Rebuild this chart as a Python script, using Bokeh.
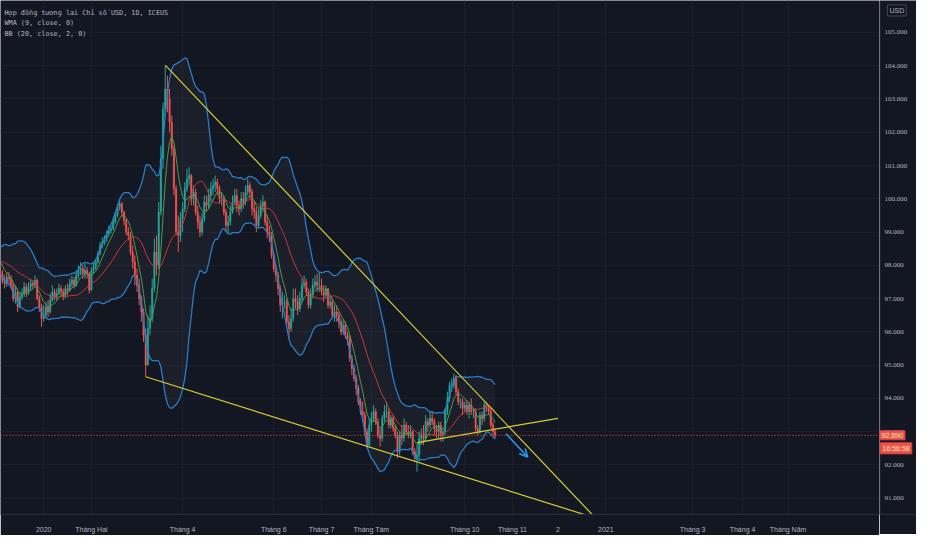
import numpy as np
import pandas as pd
from bokeh.plotting import figure
from bokeh.layouts import row
from bokeh.models import (Range1d, FixedTicker, Span, Label, Grid,
                          Arrow, OpenHead, ColumnDataSource)
from bokeh.embed import file_html
from bokeh.resources import INLINE

# ---------------- data ----------------
title_text = "Hợp đồng tương lai Chỉ số USD, 1D, ICEUS"
wma_text = "WMA (9, close, 0)"
bb_text = "BB (20, close, 2, 0)"
currency = "USD"
last_price = 92.890
countdown = "16:56:58"

holidays = ["2019-12-25", "2020-01-01", "2020-04-10", "2020-12-25", "2021-01-01", "2021-04-02"]
first_visible = "2019-12-03"

# closes before the visible window (only used for indicator warm-up)
warm_closes = [97.95, 98.15, 98.3, 98.35, 98.2, 98.3, 98.15, 97.85, 97.95, 97.8,
               98.0, 98.2, 98.3, 98.25, 98.35, 98.4, 98.3, 98.25, 97.85]

dec19_c = [97.75, 97.55, 97.45, 97.65, 97.6, 97.4, 97.0, 97.2, 96.75, 97.05, 97.15, 97.35, 97.2, 97.35, 97.45, 97.4, 97.55, 97.0, 96.75, 96.4]
dec19_h = [98.0, 97.85, 97.7, 97.8, 97.8, 97.7, 97.5, 97.4, 97.3, 97.2, 97.3, 97.5, 97.45, 97.5, 97.6, 97.55, 97.7, 97.6, 97.1, 96.85]
dec19_l = [97.6, 97.45, 97.3, 97.35, 97.45, 97.3, 96.9, 96.85, 96.6, 96.7, 96.95, 97.05, 97.05, 97.1, 97.25, 97.3, 97.35, 96.95, 96.6, 96.15]

jan_c = [96.5, 96.75, 96.6, 96.95, 97.2, 97.05, 97.15, 97.3, 97.2, 97.05, 97.3, 97.25, 97.45, 97.55, 97.4, 97.7, 97.85, 97.9, 97.75, 97.85, 97.75, 97.25]
jan_h = [96.8, 96.9, 96.95, 97.15, 97.4, 97.3, 97.3, 97.45, 97.4, 97.3, 97.4, 97.45, 97.6, 97.7, 97.65, 97.85, 98.0, 98.1, 98.0, 98.05, 97.95, 97.8]
jan_l = [96.3, 96.4, 96.45, 96.55, 96.9, 96.95, 96.95, 97.1, 97.1, 96.95, 97.0, 97.1, 97.2, 97.35, 97.3, 97.35, 97.6, 97.7, 97.6, 97.6, 97.6, 97.15]

feb_c = [97.85, 97.95, 98.1, 98.35, 98.6, 98.7, 98.8, 98.95, 99.05, 99.1, 99.3, 99.5, 99.75, 99.85, 99.6, 99.35, 99.0, 98.9, 98.4, 98.1]
feb_h = [97.95, 98.1, 98.2, 98.45, 98.7, 98.85, 98.9, 99.05, 99.2, 99.2, 99.4, 99.6, 99.85, 100.0, 99.9, 99.65, 99.4, 99.15, 99.0, 98.6]
feb_l = [97.3, 97.75, 97.85, 98.05, 98.3, 98.5, 98.6, 98.7, 98.85, 98.95, 99.05, 99.25, 99.45, 99.65, 99.45, 99.2, 98.9, 98.75, 98.3, 97.9]

mar_c = [97.7, 97.4, 97.0, 96.6, 95.9, 95.0, 96.1, 96.4, 97.3, 98.4, 98.0, 99.6, 101.2, 102.7, 103.3, 103.0, 102.3, 101.5, 100.3, 99.0, 98.9, 99.4]
mar_h = [98.3, 97.9, 97.6, 97.1, 96.7, 96.1, 96.5, 96.8, 97.6, 98.8, 98.9, 99.9, 101.6, 102.9, 104.0, 103.7, 103.3, 102.5, 101.6, 100.4, 99.5, 99.6]
mar_l = [97.4, 97.2, 96.8, 96.3, 95.7, 94.65, 95.2, 95.9, 96.3, 97.2, 97.7, 97.9, 99.5, 100.9, 102.5, 102.6, 102.0, 101.3, 100.1, 98.9, 98.4, 98.7]

apr_c = [99.7, 100.3, 100.6, 100.7, 100.0, 100.2, 99.6, 99.3, 99.0, 99.4, 99.9, 99.8, 100.1, 100.3, 100.4, 100.5, 100.3, 100.0, 100.0, 99.6, 99.2]
apr_h = [99.9, 100.5, 100.9, 100.95, 100.75, 100.4, 100.3, 99.8, 99.5, 99.6, 100.1, 100.1, 100.3, 100.5, 100.6, 100.7, 100.6, 100.4, 100.2, 100.1, 99.7]
apr_l = [99.0, 99.6, 100.2, 100.4, 99.8, 99.8, 99.5, 99.1, 98.85, 98.9, 99.3, 99.6, 99.7, 99.9, 100.1, 100.2, 100.1, 99.85, 99.8, 99.5, 99.0]

may_c = [99.3, 99.6, 99.9, 100.1, 99.8, 99.7, 100.0, 99.9, 100.2, 100.4, 100.2, 99.7, 99.6, 99.2, 99.5, 99.8, 99.9, 99.3, 99.0, 98.9, 98.3]
may_h = [99.5, 99.8, 100.1, 100.3, 100.3, 99.95, 100.2, 100.2, 100.4, 100.6, 100.5, 100.3, 99.9, 99.75, 99.7, 99.95, 100.1, 99.95, 99.5, 99.2, 99.0]
may_l = [98.95, 99.2, 99.55, 99.8, 99.6, 99.5, 99.6, 99.7, 99.8, 100.1, 100.0, 99.5, 99.4, 99.0, 99.1, 99.4, 99.6, 99.2, 98.8, 98.7, 98.2]

jun_c = [97.9, 97.7, 97.3, 96.8, 96.9, 96.9, 96.3, 96.1, 96.4, 97.0, 96.9, 96.7, 97.0, 97.4, 97.5, 97.2, 96.8, 97.1, 97.4, 97.5, 97.4, 97.4]
jun_h = [98.4, 98.0, 97.8, 97.4, 97.2, 97.1, 97.0, 96.5, 96.7, 97.3, 97.3, 97.1, 97.2, 97.6, 97.7, 97.6, 97.3, 97.3, 97.6, 97.7, 97.75, 97.8]
jun_l = [97.8, 97.5, 97.1, 96.6, 96.4, 96.7, 96.2, 95.8, 96.0, 96.3, 96.7, 96.5, 96.6, 96.9, 97.3, 97.1, 96.7, 96.7, 97.0, 97.3, 97.2, 97.2]

jul_c = [97.2, 97.1, 97.3, 96.8, 96.9, 96.5, 96.6, 96.5, 96.3, 96.0, 96.2, 95.9, 95.8, 95.2, 94.9, 94.6, 94.3, 93.9, 93.6, 93.5, 93.0, 92.6, 93.2]
jul_h = [97.6, 97.4, 97.4, 97.3, 97.1, 97.0, 96.8, 96.8, 96.6, 96.4, 96.35, 96.3, 96.0, 95.9, 95.3, 95.0, 94.7, 94.4, 94.0, 93.9, 93.6, 93.1, 93.4]
jul_l = [97.1, 96.9, 97.0, 96.7, 96.7, 96.4, 96.3, 96.3, 96.1, 95.9, 95.9, 95.8, 95.6, 95.1, 94.7, 94.5, 94.1, 93.8, 93.5, 93.3, 92.9, 92.5, 92.55]

aug_c = [93.4, 93.6, 93.3, 92.9, 92.8, 93.4, 93.6, 93.6, 93.2, 93.4, 93.1, 92.9, 92.4, 92.9, 92.8, 93.2, 93.0, 92.9, 93.0, 92.4, 92.2]
aug_h = [93.6, 93.8, 93.7, 93.4, 93.1, 93.5, 93.8, 93.9, 93.7, 93.5, 93.5, 93.2, 93.0, 93.0, 93.2, 93.4, 93.3, 93.2, 93.2, 93.05, 92.5]
aug_l = [93.0, 93.3, 93.2, 92.8, 92.55, 92.7, 93.3, 93.4, 93.1, 93.1, 93.0, 92.8, 92.2, 92.3, 92.6, 92.7, 92.9, 92.8, 92.8, 92.3, 92.1]

sep_c = [92.3, 92.8, 92.9, 92.8, 93.3, 93.2, 93.4, 93.3, 93.1, 93.0, 93.2, 92.9, 93.0, 93.6, 94.0, 94.4, 94.4, 94.6, 94.2, 93.9, 93.9, 93.7]
sep_h = [92.6, 93.0, 93.1, 93.2, 93.5, 93.4, 93.6, 93.6, 93.4, 93.2, 93.3, 93.3, 93.1, 93.7, 94.2, 94.5, 94.6, 94.75, 94.7, 94.3, 94.0, 94.0]
sep_l = [91.8, 92.1, 92.6, 92.6, 92.7, 93.0, 93.1, 93.2, 92.9, 92.8, 92.8, 92.7, 92.7, 92.9, 93.5, 93.9, 94.2, 94.3, 94.1, 93.8, 93.7, 93.5]

oct_c = [93.8, 93.6, 93.8, 93.6, 93.6, 93.1, 93.0, 93.5, 93.4, 93.8, 93.7, 93.6, 93.2, 93.0, 92.89]
oct_h = [93.9, 93.95, 93.9, 94.0, 93.7, 93.7, 93.2, 93.6, 93.6, 93.9, 93.9, 93.8, 93.7, 93.3, 93.1]
oct_l = [93.6, 93.5, 93.4, 93.5, 93.4, 93.0, 92.9, 92.95, 93.2, 93.3, 93.6, 93.5, 93.1, 92.9, 92.8]

closes = dec19_c + jan_c + feb_c + mar_c + apr_c + may_c + jun_c + jul_c + aug_c + sep_c + oct_c
highs = dec19_h + jan_h + feb_h + mar_h + apr_h + may_h + jun_h + jul_h + aug_h + sep_h + oct_h
lows = dec19_l + jan_l + feb_l + mar_l + apr_l + may_l + jun_l + jul_l + aug_l + sep_l + oct_l

# time-axis labels (month starts)
tick_months = ["2020-01-01", "2020-02-01", "2020-04-01", "2020-06-01", "2020-07-01", "2020-08-01",
               "2020-10-01", "2020-11-01", "2020-12-01", "2021-01-01", "2021-03-01", "2021-04-01", "2021-05-01"]
tick_labels = ["2020", "Tháng Hai", "Tháng 4", "Tháng 6", "Tháng 7", "Tháng Tám",
               "Tháng 10", "Tháng 11", "2", "2021", "Tháng 3", "Tháng 4", "Tháng Năm"]
price_ticks = [91, 92, 93, 94, 95, 96, 97, 98, 99, 100, 101, 102, 103, 104, 105]

# drawings: (dates, prices)
upper_trend = (["2020-03-20", "2020-12-23"], [104.02, 90.49])
lower_trend = (["2020-03-09", "2020-12-21"], [94.65, 90.47])
short_trend = (["2020-09-01", "2020-12-01"], [92.67, 93.40])
arrow_pts = (["2020-10-28", "2020-11-11"], [92.94, 92.24])

# ---------------- calendar / indices ----------------
cal = pd.bdate_range("2019-11-01", "2021-06-30")
cal = cal[~cal.isin(pd.to_datetime(holidays))]

def pos(d):
    return int(np.searchsorted(cal.values, np.datetime64(pd.Timestamp(d))))

n = min(len(closes), len(highs), len(lows))
first = pos(first_visible)
all_close = np.array(warm_closes + closes[:n], dtype=float)
nw = len(warm_closes)
x_all = np.arange(first - nw, first - nw + len(all_close))
opens_all = np.r_[all_close[0], all_close[:-1]]

o = opens_all[nw:]
c = all_close[nw:]
h = np.maximum(np.array(highs[:n]), np.maximum(o, c))
l = np.minimum(np.array(lows[:n]), np.minimum(o, c))
x = x_all[nw:]
UP, DOWN = "#26a69a", "#ef5350"
colors = [UP if cc >= oo else DOWN for oo, cc in zip(o, c)]
candles = ColumnDataSource(dict(x=x, o=o, c=c, h=h, l=l, top=np.maximum(o, c),
                                bot=np.minimum(o, c), color=colors))

# indicators
s = pd.Series(all_close)
basis = s.rolling(20).mean()
sd = s.rolling(20).std(ddof=0)
upper = basis + 2 * sd
lower = basis - 2 * sd
wts = np.arange(1, 10)
wma = s.rolling(9).apply(lambda a: np.dot(a, wts) / wts.sum(), raw=True)
ind = ColumnDataSource(dict(x=x_all, basis=basis, upper=upper, lower=lower, wma=wma))

# ---------------- main chart ----------------
BG = "#131722"
GRID = "#1c202c"
AXLINE = "#2a2e39"
TXT = "#b2b5be"
FW, FH, AW = 879, 514, 37
bars_visible = 405.0
x0 = first + 0.1
yr = Range1d(90.51, 105.96)
p = figure(frame_width=FW, frame_height=FH, output_backend="svg", toolbar_location=None,
           x_range=Range1d(x0, x0 + bars_visible), y_range=yr, y_axis_location=None,
           background_fill_color=BG, border_fill_color=BG,
           min_border_left=0, min_border_top=0, min_border_right=0, min_border_bottom=20,
           outline_line_color=None)

tick_pos = [pos(m) for m in tick_months]
p.xaxis.ticker = FixedTicker(ticks=tick_pos)
p.xaxis.major_label_overrides = {tp: lab for tp, lab in zip(tick_pos, tick_labels)}
p.xaxis.major_label_text_font = "Liberation Sans"
p.xaxis.major_label_text_font_size = "7px"
p.xaxis.major_label_text_color = TXT
p.xaxis.major_tick_line_color = None
p.xaxis.minor_tick_line_color = None
p.xaxis.axis_line_color = AXLINE
p.xaxis.major_label_standoff = 5
p.xgrid.ticker = FixedTicker(ticks=tick_pos)
p.xgrid.grid_line_color = GRID
p.add_layout(Grid(dimension=1, ticker=FixedTicker(ticks=price_ticks), grid_line_color=GRID))

# Bollinger fill
p.varea(x="x", y1="lower", y2="upper", source=ind, fill_color="#787b86", fill_alpha=0.08)

# candles
p.segment(x0="x", y0="h", x1="x", y1="l", color="color", line_width=1, source=candles)
p.vbar(x="x", width=0.62, top="top", bottom="bot", fill_color="color", line_color="color",
       line_width=0.5, source=candles)

# indicator lines
p.line("x", "upper", source=ind, line_color="#2a7cc6", line_width=1.3)
p.line("x", "lower", source=ind, line_color="#2a7cc6", line_width=1.3)
p.line("x", "basis", source=ind, line_color="#c6373a", line_width=1)
p.line("x", "wma", source=ind, line_color="#4b9a4f", line_width=1)

# drawings
YEL = "#d6cd34"
for d, pr in (upper_trend, lower_trend, short_trend):
    p.line([pos(v) for v in d], pr, line_color=YEL, line_width=1.2)
ad, ap = arrow_pts
p.add_layout(Arrow(end=OpenHead(size=8, line_color="#2b9cf0", line_width=1.5),
                   x_start=pos(ad[0]), y_start=ap[0], x_end=pos(ad[1]), y_end=ap[1],
                   line_color="#2b9cf0", line_width=1.5))

# last price line
p.add_layout(Span(location=last_price, dimension="width", line_color="#ef5350",
                  line_dash="1 2", line_width=1))

# legend texts (top-left)
for i, t in enumerate([title_text, wma_text, bb_text]):
    p.add_layout(Label(x=4, y=FH - 12 - 10.6 * i, x_units="screen", y_units="screen", text=t,
                       text_font="DejaVu Sans Mono", text_font_size="6.8px",
                       text_color=TXT, text_baseline="middle"))

# ---------------- price scale (right column) ----------------
pa = figure(frame_width=AW, frame_height=FH, output_backend="svg", toolbar_location=None,
            x_range=Range1d(0, AW), y_range=yr, y_axis_location=None,
            background_fill_color=BG, border_fill_color=BG,
            min_border_left=0, min_border_top=0, min_border_right=0, min_border_bottom=20,
            outline_line_color=None)
pa.xaxis.ticker = FixedTicker(ticks=[])
pa.xaxis.major_label_text_font_size = "0px"
pa.xaxis.major_tick_line_color = None
pa.xaxis.minor_tick_line_color = None
pa.xaxis.axis_line_color = AXLINE
pa.grid.visible = False
pa.add_layout(Span(location=0.5, dimension="height", line_color=AXLINE, line_width=1))
pa.text(x=[5] * len(price_ticks), y=price_ticks, text=[f"{v:.3f}" for v in price_ticks],
        text_font="Liberation Sans", text_font_size="7px", text_color=TXT,
        text_baseline="middle", text_align="left")

pa.add_layout(Label(x=0, y=last_price, x_units="data", y_units="data",
                    text=f"{last_price:.3f}", text_font="Liberation Sans", text_font_size="7px",
                    text_color="#f6e7a1", text_baseline="middle", background_fill_color="#ef5350",
                    border_line_color="#d9434a", padding=2))
pa.add_layout(Label(x=1, y=last_price, y_offset=-13, x_units="data", y_units="data",
                    text=countdown, text_font="Liberation Sans", text_font_size="7px",
                    text_color="#f6e7a1", text_baseline="middle", background_fill_color="#ef5350",
                    border_line_color="#d9434a", padding=2))
pa.add_layout(Label(x=8, y=FH - 10, x_units="screen", y_units="screen", text=currency,
                    text_font="Liberation Sans", text_font_size="7px", text_color=TXT,
                    text_baseline="middle", border_line_color="#434651",
                    background_fill_color=BG, padding=2))

layout = row(p, pa, spacing=0)
open("out.html", "w").write(file_html(layout, INLINE))
